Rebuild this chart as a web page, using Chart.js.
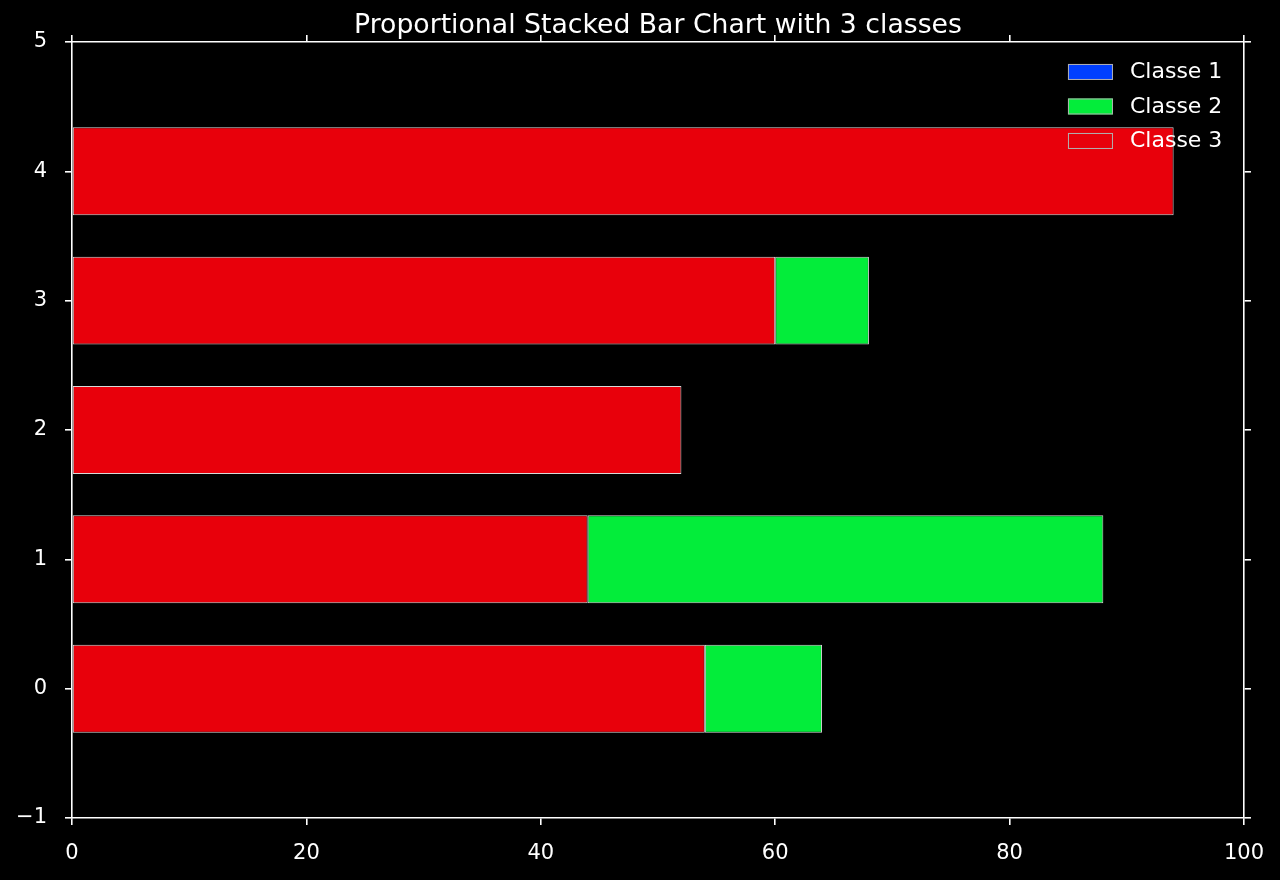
<!DOCTYPE html>
<html>
<head>
<meta charset="utf-8">
<script src="https://cdn.jsdelivr.net/npm/chart.js@4/dist/chart.umd.min.js"></script>
<style>
  html, body { margin: 0; padding: 0; background: #000; }
  #wrap { width: 1280px; height: 880px; background: #000; }
</style>
</head>
<body>
<div id="wrap"><canvas id="c" width="1280" height="880"></canvas></div>
<script>
// ---- data ----
const categories = [0, 1, 2, 3, 4];
const classe1 = [0, 0, 0, 0, 0];
const classe2 = [10, 44, 0, 8, 0];
const classe3 = [54, 44, 52, 60, 94];
const seriesLabels = ['Classe 1', 'Classe 2', 'Classe 3'];
const titleText = 'Proportional Stacked Bar Chart with 3 classes';

const FONT = "'DejaVu Sans', sans-serif";
const EDGE = '#d8d8d8';
const toPoints = (vals) => categories.map((c, i) => ({ x: vals[i], y: c }));
const minusFmt = (v) => String(v).replace('-', '\u2212');

const legendPlugin = {
  id: 'innerLegend',
  afterDraw(chart) {
    const ctx = chart.ctx;
    const area = chart.chartArea;
    const x0 = area.right - 176;
    const y0 = area.top + 22;
    ctx.save();
    chart.data.datasets.forEach((ds, i) => {
      const y = y0 + i * 34.5;
      ctx.fillStyle = ds.backgroundColor;
      ctx.fillRect(x0, y, 45, 16);
      ctx.strokeStyle = '#b0b0b0';
      ctx.lineWidth = 1;
      ctx.strokeRect(x0 + 0.5, y + 0.5, 44, 15);
      ctx.fillStyle = '#ffffff';
      ctx.font = '22px ' + FONT;
      ctx.textBaseline = 'middle';
      ctx.textAlign = 'left';
      ctx.fillText(ds.label, x0 + 62, y + 8.5);
    });
    ctx.restore();
  }
};

const axisCommon = {
  border: { color: '#ffffff', width: 1.6 },
  grid: { drawOnChartArea: false, color: '#ffffff', tickLength: 7, lineWidth: 1.6, offset: false },
};

new Chart(document.getElementById('c'), {
  type: 'bar',
  data: {
    datasets: [
      { label: seriesLabels[0], data: toPoints(classe1), backgroundColor: '#003FFF', borderColor: EDGE, order: 3 },
      { label: seriesLabels[1], data: toPoints(classe2), backgroundColor: '#03ED3A', borderColor: EDGE, order: 2 },
      { label: seriesLabels[2], data: toPoints(classe3), backgroundColor: '#E8000B', borderColor: EDGE, order: 1 }
    ]
  },
  options: {
    indexAxis: 'y',
    responsive: false,
    animation: false,
    devicePixelRatio: 1,
    layout: { padding: 0 },
    datasets: {
      bar: {
        borderWidth: 1,
        borderSkipped: false,
        inflateAmount: 0,
        categoryPercentage: 1,
        barPercentage: 0.68
      }
    },
    plugins: {
      legend: { display: false },
      tooltip: { enabled: false },
      title: {
        display: true,
        fullSize: false,
        text: titleText,
        color: '#ffffff',
        font: { family: FONT, size: 26.7, weight: 'normal', lineHeight: 1.1 },
        padding: { top: 11.5, bottom: 1.1 }
      }
    },
    scales: {
      x: {
        ...axisCommon,
        type: 'linear', position: 'bottom', stacked: true,
        min: 0, max: 100,
        ticks: { stepSize: 20, color: '#ffffff', padding: 16, font: { family: FONT, size: 21 }, maxRotation: 0 },
        afterFit(s) { s.height = 62; }
      },
      x2: {
        ...axisCommon,
        type: 'linear', position: 'top',
        min: 0, max: 100,
        ticks: { stepSize: 20, display: false },
        afterFit(s) { s.height = 0; }
      },
      y: {
        ...axisCommon,
        type: 'linear', position: 'left', stacked: true, offset: false,
        min: -1, max: 5,
        ticks: { stepSize: 1, color: '#ffffff', padding: 18, font: { family: FONT, size: 21 }, callback: minusFmt },
        afterFit(s) { s.width = 72; }
      },
      y2: {
        ...axisCommon,
        type: 'linear', position: 'right', offset: false,
        min: -1, max: 5,
        ticks: { stepSize: 1, display: false },
        afterFit(s) { s.width = 36; }
      }
    }
  },
  plugins: [legendPlugin]
});
</script>
</body>
</html>
